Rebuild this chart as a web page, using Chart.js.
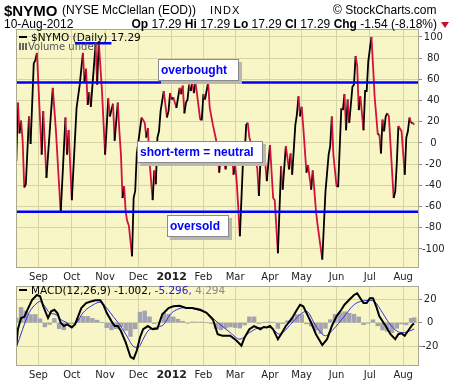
<!DOCTYPE html>
<html>
<head>
<meta charset="utf-8">
<script src="https://cdn.jsdelivr.net/npm/chart.js@4.4.0/dist/chart.umd.min.js"></script>
<style>
  body { margin: 0; width: 460px; height: 383px; overflow: hidden; position: relative; background: #fff; font-family: "Liberation Sans", Arial, sans-serif; }
  canvas { position: absolute; left: 0; }
  .t { position: absolute; white-space: nowrap; color: #000; line-height: 1; }
  .lg { font-family: "DejaVu Sans", sans-serif; font-size: 10.5px; }
  .dash { position: absolute; width: 8px; height: 2px; background: #000; }
</style>
</head>
<body>
<canvas id="mainChart" width="460" height="283" style="top:0"></canvas>
<canvas id="macdChart" width="460" height="103" style="top:280px"></canvas>

<div class="t" style="left:4px;top:3px;font-size:15px;font-weight:bold">$NYMO</div>
<div class="t" style="left:62px;top:4px;font-size:12px">(NYSE McClellan (EOD))</div>
<div class="t" style="left:210px;top:5px;font-size:11px;letter-spacing:1px">INDX</div>
<div class="t" style="left:333px;top:4px;font-size:12px">&copy; StockCharts.com</div>
<div class="t" style="left:4px;top:18px;font-size:12px">10-Aug-2012</div>
<div class="t" style="right:23px;top:18px;font-size:12px"><b>Op</b> 17.29 <b>Hi</b> 17.29 <b>Lo</b> 17.29 <b>Cl</b> 17.29 <b>Chg</b> -1.54 (-8.18%)</div>
<div class="t" style="left:441px;top:22px;width:0;height:0;border-left:4px solid transparent;border-right:4px solid transparent;border-top:6px solid #c8102e"></div>

<div class="dash" style="left:19px;top:36px"></div>
<div class="t lg" style="left:31px;top:32px">$NYMO (Daily) 17.29</div>
<div class="t" style="left:19px;top:43px;width:8px;height:7px;background:linear-gradient(90deg,#666 0 2px,transparent 2px 3px,#666 3px 5px,transparent 5px 6px,#666 6px 8px)"></div>
<div class="t lg" style="left:28px;top:42px;font-size:10px;color:#555">Volume undef</div>

<div class="dash" style="left:19px;top:289px"></div>
<div class="t lg" style="left:31px;top:285px">MACD(12,26,9) -1.002, <span style="color:#2222cc">-5.296,</span> <span style="color:#888">4.294</span></div>

<script>
// 取引日インデックス (0 = 2011/8/12) と月初
const monthDays = [14, 35, 56, 77, 98, 118, 138, 160, 180, 202, 223, 244];
const monthLabels = ['Sep', 'Oct', 'Nov', 'Dec', '2012', 'Feb', 'Mar', 'Apr', 'May', 'Jun', 'Jul', 'Aug'];
const nymoTicks = [-100, -80, -60, -40, -20, 0, 20, 40, 60, 80, 100];
const macdTicks = [-20, 0, 20];

// $NYMO 転換点
const nymoDays = [0, 1, 2, 3, 4, 5, 6, 8, 9, 11, 12, 13, 16, 17, 19, 23, 25, 28, 31, 32, 33, 35, 38, 40, 42, 43, 44, 45, 46, 47, 50, 51, 52, 54, 56,
  58, 59, 61, 62, 64, 65, 66, 67, 68, 69, 70, 71, 73, 74, 75, 76, 79, 81, 82, 83, 84, 86, 87, 88, 89, 90, 91, 93, 95, 96, 97, 98, 99, 101,
  103, 104, 105, 106, 107, 108, 109, 110, 111, 112, 113, 114, 116, 117, 118, 119, 121, 122, 124, 126, 127, 128, 129, 130, 131, 132, 133, 134, 135, 136, 137, 138, 139, 140, 141,
  143, 144, 145, 146, 147, 149, 150, 151, 152, 153, 154, 156, 158, 160, 162, 163, 165, 167, 168, 170, 172, 173, 174, 176, 177, 178, 179, 180, 181,
  183, 184, 186, 187, 189, 190, 193, 195, 197, 198, 199, 200, 202, 203, 205, 206, 207, 208, 209, 210, 212, 213, 214, 215, 216, 217, 219, 220, 221,
  222, 224, 225, 226, 228, 229, 230, 231, 232, 233, 234, 235, 238, 239, 240, 241, 243, 245, 246, 247, 248, 249, 250, 251];
const nymoVals = [-17, 38, 9, 21, 2, -42, -39, 25, -1, 75, 78, 85, -11, 30, -33, 52, 11, -66, 24, -11, 12, -54, 33, 55, 85, 57, 70, 36, 48, 34, 93, 55, 96, 50, -11,
  42, 25, 37, 2, 38, 11, -11, -52, -41, -65, -74, -78, -107, -52, -45, -10, 24, 19, 5, 14, -17, -54, -26, -39, 5, 11, 30, 49, 24, 30, 47, 41, 43, 33,
  52, 46, 54, 28, 38, 41, 55, 49, 57, 47, 57, 46, 22, 22, 46, 41, 57, 33, 17, 3, -12, -28, -10, -5, -18, -25, -12, -5, -17, -8, -30, -20, -36, -61, -88,
  -17, -11, 17, 19, 5, -5, -2, -17, -24, -50, -17, -1, -36, -2, -52, -54, -104, -22, -44, -3, -25, -10, -30, 17, 27, 44, 25, 34, 15,
  -28, -21, -44, -26, -64, -77, -110, -46, -11, -3, 25, -11, -41, -41, 33, 31, 46, 12, 41, 19, 53, 55, 82, 73, 31, 44, 12, 49, 49,
  77, 100, 73, 44, 8, 8, -10, 22, 11, 25, 28, 25, -52, -46, -19, 16, 11, -30, 5, 11, 24, 19, 19, 17.29];

// 水平線
const overbought = 57;
const oversold = -65;
const markDays = [37, 60];
const markLevel = 94;

// MACD(12,26,9)
const macdDays = [0, 1, 3, 5, 7, 10, 13, 15, 17, 20, 22, 24, 26, 28, 30, 32, 35, 37, 39, 41, 44, 47, 50, 53, 55, 57, 60, 62, 64, 66, 69, 72, 74, 76, 78, 80, 83, 86, 89, 92, 96, 99,
  103, 107, 111, 116, 120, 124, 127, 130, 135, 139, 142, 144, 147, 150, 154, 156, 158, 160, 162, 165, 167, 170, 174, 177, 179, 181, 183, 186, 189, 193, 196, 199,
  202, 205, 207, 210, 213, 215, 217, 219, 221, 223, 225, 227, 229, 233, 236, 239, 241, 243, 245, 247, 250, 251];
const macdVals = [-19.4, -5.5, 4, 5, 11, 19.5, 23.6, 22.5, 14, 4, 9.7, 11, 8, 0, -2.8, -1.4, -4, -1.4, 5.5, 12.5, 16.7, 18, 19, 19, 15, 8.4, 1.4, -2.8, -2.8, -7, -16.7, -29, -30.5, -23.6, -12.5, -5.5, -2.8, -5.5, -5, 7, 12.5, 14,
  14.4, 12.5, 12.5, 11, 8.4, 2.8, -9.7, -11, -11, -15.3, -19.4, -12.5, -5.5, -2.8, -5.5, -3.6, -4, -2.8, -5.5, -13.9, -9.7, -2.8, 4, 11, 15.3, 14, 8.4, 0, -9.7, -18.9, -13.9, -2.8,
  5.5, 11, 15.3, 19.5, 23.6, 25, 20.8, 16.7, 16.7, 20.8, 20.8, 14, 5.5, -2.8, -9.7, -13.9, -9.7, -9, -11, -7, -1.4, -1.002];
const signalDays = [0, 4, 8, 13, 15, 18, 21, 25, 28, 32, 35, 38, 42, 47, 53, 57, 61, 65, 69, 75, 77, 80, 83, 88, 93, 97, 101, 107, 114, 120, 126, 135, 141, 147, 154, 160,
  166, 173, 179, 183, 189, 195, 200, 206, 213, 217, 223, 226, 231, 235, 240, 244, 248, 251];
const signalVals = [-21, -5.5, 8.4, 16.7, 18, 14, 8.4, 7, 2.8, 0, -2.8, 0, 8.4, 14, 17.5, 12.5, 5.5, -1.4, -9.7, -20.8, -20.8, -13.9, -7, -4, -1.4, 7, 11, 13, 11, 8.4, 1.4, -8.4, -13.9, -8.4, -4, -4,
  -9.7, -1.4, 7, 9.7, -2.8, -11, -5.5, 4, 15.3, 18, 19, 18, 8.4, 0, -7, -8.4, -7, -5.296];
const histDays = [0, 3, 6, 9, 12, 15, 18, 21, 24, 27, 30, 33, 36, 39, 42, 45, 48, 51, 54, 57, 60, 63, 66, 69, 72, 75, 78, 81, 84, 87, 90, 93, 96, 99, 102, 105, 108, 111, 114, 117, 120, 123,
  126, 129, 132, 135, 138, 141, 144, 147, 150, 153, 156, 159, 162, 165, 168, 171, 174, 177, 180, 183, 186, 189, 192, 195, 198, 201, 204, 207, 210, 213, 216, 219, 222, 225,
  228, 231, 234, 237, 240, 243, 246, 249, 251];
const histVals = [4, 13, 10, 7, 7, 3.4, -3.5, -1.4, 3.6, -5, -6, -0.7, -0.8, 3.4, 5.5, 5.4, 3.7, 2.2, 0.4, -4.2, -6, -5, -3.4, -6.5, -11.6, -5.2, 9, 10, 5, -0.7, 0.5, 8.3, 7.1, 4.9, 3, 1.2, -0.3, 0.7, 0.6, 0.6, 0, -0.7,
  -5, -6, -4.5, -3.5, -4, -4.5, -1.8, 5, 5, -0.6, 0.3, 0.7, 0.4, -4.8, -0.7, 1.7, 4.2, 6.9, 6.9, -0.9, -2.8, -6.4, -9.2, -4.7, 2.6, 7.1, 8.4, 9.4, 8.1, 7.2, 4.9, -1.6, -0.2, 2.5,
  -2.6, -6.1, -7.3, -8.3, -4.7, -1, -1.7, 3.7, 4.294];

const BG = '#f8f6c6';
const GRID = '#d6d4a4';
const TICK_FONT = { family: 'DejaVu Sans', size: 10 };

function toPoints(days, vals) {
    return days.map((d, i) => ({ x: d, y: vals[i] }));
}

// 背景と枠
const panelPlugin = {
    id: 'panel',
    beforeDraw(chart) {
        const { ctx, chartArea: a } = chart;
        ctx.save();
        ctx.fillStyle = BG;
        ctx.fillRect(a.left, a.top, a.right - a.left, a.bottom - a.top);
        ctx.restore();
    },
    afterDraw(chart) {
        const { ctx, chartArea: a } = chart;
        ctx.save();
        ctx.strokeStyle = '#a9a98f';
        ctx.lineWidth = 1;
        ctx.strokeRect(a.left + 0.5, a.top + 0.5, a.right - a.left - 1, a.bottom - a.top - 1);
        ctx.restore();
    }
};

// 買われ過ぎ／売られ過ぎライン・注記
const notePlugin = {
    id: 'notes',
    afterDatasetsDraw(chart) {
        const { ctx, chartArea: a, scales: { x, y } } = chart;
        ctx.save();
        ctx.strokeStyle = '#0000ff';
        ctx.lineWidth = 2.5;
        [overbought, oversold].forEach(level => {
            const py = y.getPixelForValue(level);
            ctx.beginPath();
            ctx.moveTo(a.left, py);
            ctx.lineTo(a.right, py);
            ctx.stroke();
        });
        const my = y.getPixelForValue(markLevel);
        ctx.beginPath();
        ctx.moveTo(x.getPixelForValue(markDays[0]), my);
        ctx.lineTo(x.getPixelForValue(markDays[1]), my);
        ctx.stroke();

        const boxes = [
            { text: 'overbought', l: 158, t: 59, w: 81, h: 22 },
            { text: 'short-term = neutral', l: 137, t: 141, w: 126, h: 22 },
            { text: 'oversold', l: 167, t: 215, w: 62, h: 22 }
        ];
        boxes.forEach(b => {
            ctx.fillStyle = '#b8b8b0';
            ctx.fillRect(b.l + 3, b.t + 3, b.w, b.h);
            ctx.fillStyle = '#ffffff';
            ctx.fillRect(b.l, b.t, b.w, b.h);
            ctx.strokeStyle = '#8a8a8a';
            ctx.lineWidth = 1;
            ctx.strokeRect(b.l + 0.5, b.t + 0.5, b.w - 1, b.h - 1);
            ctx.fillStyle = '#0000ff';
            ctx.font = 'bold 12px "Liberation Sans", Arial, sans-serif';
            ctx.textBaseline = 'middle';
            ctx.fillText(b.text, b.l + 3, b.t + b.h / 2 + 1);
        });
        ctx.restore();
    }
};

function xScale(height) {
    return {
        type: 'linear',
        min: -0.2,
        max: 254,
        offset: false,
        afterBuildTicks: s => { s.ticks = monthDays.map(v => ({ value: v })); },
        afterFit: s => { s.height = height; },
        grid: { color: GRID, drawTicks: false, offset: false },
        border: { display: false },
        ticks: {
            autoSkip: false,
            maxRotation: 0,
            padding: 3,
            color: '#222',
            callback: (v, i) => monthLabels[i],
            font: c => monthLabels[c.index] === '2012'
                ? { family: 'DejaVu Sans', size: 11, weight: 'bold' }
                : TICK_FONT
        }
    };
}

function yScale(min, max, tickValues) {
    return {
        position: 'right',
        min: min,
        max: max,
        afterBuildTicks: s => { s.ticks = tickValues.map(v => ({ value: v })); },
        afterFit: s => { s.width = 41; },
        grid: { color: GRID, drawTicks: true, tickLength: 3, tickColor: '#888' },
        border: { display: false },
        ticks: { crossAlign: 'center', padding: 0, color: '#222', font: TICK_FONT }
    };
}

const common = {
    responsive: false,
    animation: false,
    events: [],
    plugins: { legend: { display: false }, tooltip: { enabled: false } }
};

new Chart(document.getElementById('mainChart'), {
    type: 'line',
    data: {
        datasets: [{
            data: toPoints(nymoDays, nymoVals),
            borderWidth: 1.8,
            pointRadius: 0,
            borderColor: '#000',
            segment: {
                borderColor: c => c.p1.parsed.y >= c.p0.parsed.y ? '#000000' : '#d4103c'
            }
        }]
    },
    options: {
        ...common,
        layout: { padding: { left: 16, top: 29, right: 0, bottom: 0 } },
        scales: {
            x: xScale(15),
            y: yScale(-118, 107.5, nymoTicks)
        }
    },
    plugins: [panelPlugin, notePlugin]
});

new Chart(document.getElementById('macdChart'), {
    type: 'line',
    data: {
        datasets: [
            {
                type: 'bar',
                data: toPoints(histDays, histVals),
                backgroundColor: '#a2a2b2',
                barThickness: 3.8,
                order: 3
            },
            {
                data: toPoints(signalDays, signalVals),
                borderColor: '#3030e0',
                borderWidth: 1,
                pointRadius: 0,
                cubicInterpolationMode: 'monotone',
                order: 2
            },
            {
                data: toPoints(macdDays, macdVals),
                borderColor: '#000',
                borderWidth: 2,
                pointRadius: 0,
                order: 1
            }
        ]
    },
    options: {
        ...common,
        layout: { padding: { left: 16, top: 4, right: 0, bottom: 0 } },
        scales: {
            x: xScale(17),
            y: yScale(-36.7, 31.2, macdTicks)
        }
    },
    plugins: [panelPlugin]
});
</script>
</body>
</html>
